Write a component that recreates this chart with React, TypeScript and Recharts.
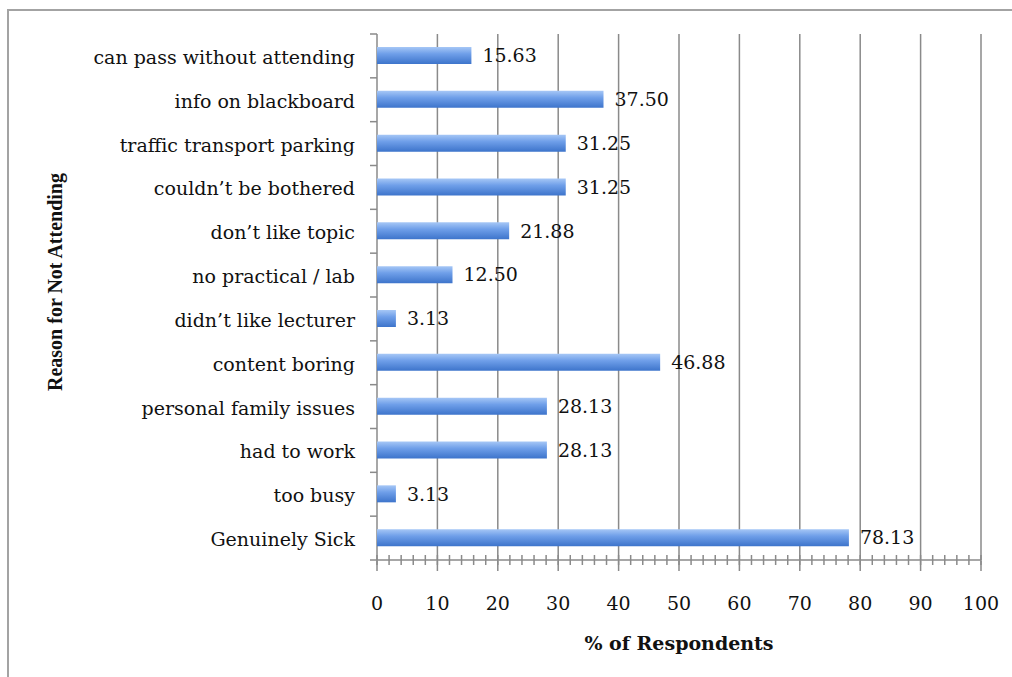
import React from 'react';
import { BarChart, Bar, XAxis, YAxis, CartesianGrid, LabelList } from 'recharts';

const reasons = [
  'can pass without attending',
  'info on blackboard',
  'traffic transport parking',
  'couldn\u2019t be bothered',
  'don\u2019t like topic',
  'no practical / lab',
  'didn\u2019t like lecturer',
  'content boring',
  'personal family issues',
  'had to work',
  'too busy',
  'Genuinely Sick',
];
const percents = [15.63, 37.5, 31.25, 31.25, 21.88, 12.5, 3.13, 46.88, 28.13, 28.13, 3.13, 78.13];
const majorTicks = [0, 10, 20, 30, 40, 50, 60, 70, 80, 90, 100];
const minorTicks = [
  0, 2, 4, 6, 8, 10, 12, 14, 16, 18, 20, 22, 24, 26, 28, 30, 32, 34, 36, 38, 40, 42, 44, 46, 48, 50,
  52, 54, 56, 58, 60, 62, 64, 66, 68, 70, 72, 74, 76, 78, 80, 82, 84, 86, 88, 90, 92, 94, 96, 98, 100,
];

const data = reasons.map((reason, i) => ({ reason, pct: percents[i] }));

const FONT = '"DejaVu Serif", serif';
const TITLE_FONT = '"Liberation Serif", serif';
const AXIS = '#8a8a8a';

// category label plus the small tick marks on the band boundaries (Excel style)
const CategoryTick = ({ x, y, payload, index }: any) => {
  const half = payload.offset || 0;
  const axisX = x + 8;
  return (
    <g>
      <line x1={axisX - 7} x2={axisX} y1={y - half} y2={y - half} stroke={AXIS} strokeWidth={1.5} />
      {index === reasons.length - 1 && (
        <line x1={axisX - 7} x2={axisX} y1={y + half} y2={y + half} stroke={AXIS} strokeWidth={1.5} />
      )}
      <text x={x - 14} y={y} dy={8} textAnchor="end" fontFamily={FONT} fontSize={19} fill="#111">
        {payload.value}
      </text>
    </g>
  );
};

const NumberTick = ({ x, y, payload }: any) => (
  <text x={x} y={y} dy={37} textAnchor="middle" fontFamily={FONT} fontSize={19} fill="#111">
    {payload.value}
  </text>
);

const NoLabel = () => null;

export default function App() {
  return (
    <div style={{ position: 'absolute', left: 0, top: 0, width: 1012, height: 677, background: '#fff' }}>
      <div
        style={{
          position: 'absolute', left: 7, top: 9, width: 1005, height: 668,
          borderTop: '2px solid #a3a3a3', borderLeft: '2px solid #a3a3a3',
        }}
      />
      <BarChart
        width={1012}
        height={677}
        data={data}
        layout="vertical"
        margin={{ top: 34, right: 31, bottom: 0, left: 0 }}
        style={{ position: 'absolute', left: 0, top: 0 }}
      >
        <defs>
          <linearGradient id="barFill" x1="0" y1="0" x2="0" y2="1">
            <stop offset="0%" stopColor="#a6c7f6" />
            <stop offset="40%" stopColor="#6f9fe9" />
            <stop offset="100%" stopColor="#3d74cb" />
          </linearGradient>
        </defs>
        <CartesianGrid xAxisId="x" yAxisId="cat" horizontal={false} stroke={AXIS} strokeWidth={1.5} />
        <XAxis
          xAxisId="minor"
          type="number"
          domain={[0, 100]}
          allowDataOverflow
          ticks={minorTicks}
          interval={0}
          tick={<NoLabel />}
          tickSize={10}
          tickLine={{ stroke: AXIS, strokeWidth: 1.5, transform: 'translate(0,-5)' }}
          axisLine={false}
          height={1}
        />
        <XAxis
          xAxisId="x"
          type="number"
          domain={[0, 100]}
          ticks={majorTicks}
          tick={<NumberTick />}
          tickSize={10}
          tickLine={{ stroke: AXIS, strokeWidth: 1.5 }}
          axisLine={{ stroke: AXIS, strokeWidth: 1.5, transform: 'translate(0,-1)' }}
          height={116}
          label={({ viewBox }: any) => (
            <text
              x={viewBox.x + viewBox.width / 2}
              y={viewBox.y + 89}
              textAnchor="middle"
              fontFamily={FONT}
              fontSize={19}
              fontWeight="bold"
              fill="#111"
            >
              % of Respondents
            </text>
          )}
        />
        <YAxis
          yAxisId="cat"
          type="category"
          dataKey="reason"
          tick={<CategoryTick />}
          tickLine={false}
          axisLine={false}
          width={377}
          interval={0}
          label={({ viewBox }: any) => (
            <text
              x={55}
              y={viewBox.y + viewBox.height / 2 - 15}
              transform={`rotate(-90, 55, ${viewBox.y + viewBox.height / 2 - 15})`}
              textAnchor="middle"
              dominantBaseline="central"
              fontFamily={TITLE_FONT}
              fontSize={20}
              fontWeight="bold"
              fill="#111"
            >
              Reason for Not Attending
            </text>
          )}
        />
        <Bar
          xAxisId="x"
          yAxisId="cat"
          dataKey="pct"
          fill="url(#barFill)"
          barSize={17}
          isAnimationActive={false}
        >
          <LabelList
            dataKey="pct"
            position="right"
            offset={11}
            formatter={(v: any) => Number(v).toFixed(2)}
            style={{ fontFamily: FONT, fontSize: 19, fill: '#111' }}
          />
        </Bar>
      </BarChart>
    </div>
  );
}
